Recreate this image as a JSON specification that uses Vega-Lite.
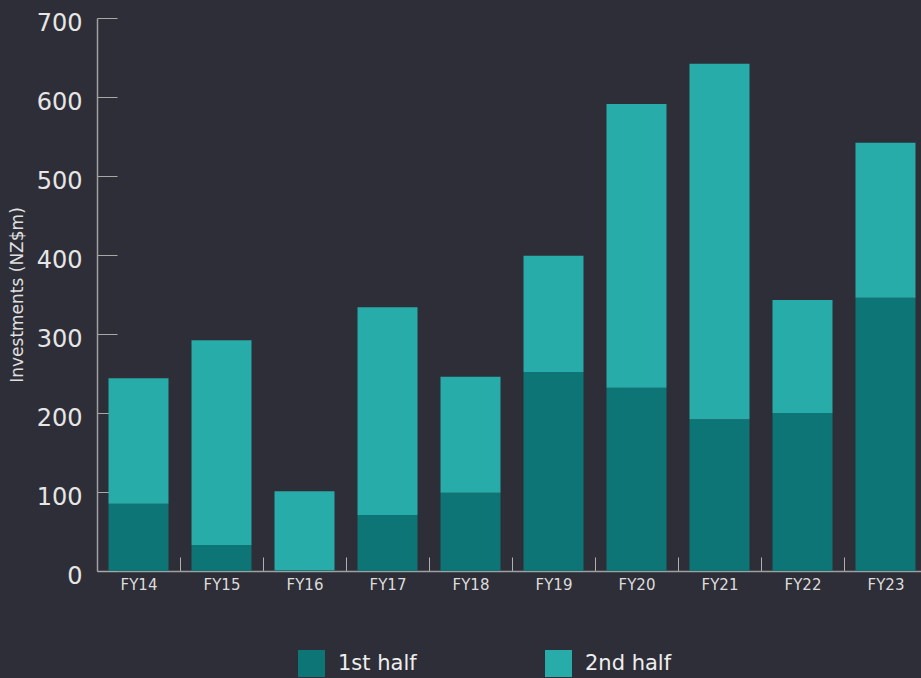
{
  "$schema": "https://vega.github.io/schema/vega-lite/v6.json",
  "width": 824,
  "height": 553,
  "autosize": {"type": "none"},
  "padding": {"left": 97, "top": 18, "right": 0, "bottom": 107},
  "background": "#2e2e38",
  "config": {
    "view": {"stroke": null},
    "font": "DejaVu Sans"
  },
  "data": {
    "values": [
      {"year": "FY14", "half": "1st half", "value": 85},
      {"year": "FY14", "half": "2nd half", "value": 159},
      {"year": "FY15", "half": "1st half", "value": 33},
      {"year": "FY15", "half": "2nd half", "value": 259},
      {"year": "FY16", "half": "1st half", "value": 1},
      {"year": "FY16", "half": "2nd half", "value": 100},
      {"year": "FY17", "half": "1st half", "value": 71},
      {"year": "FY17", "half": "2nd half", "value": 263},
      {"year": "FY18", "half": "1st half", "value": 99},
      {"year": "FY18", "half": "2nd half", "value": 147},
      {"year": "FY19", "half": "1st half", "value": 252},
      {"year": "FY19", "half": "2nd half", "value": 147},
      {"year": "FY20", "half": "1st half", "value": 232},
      {"year": "FY20", "half": "2nd half", "value": 359},
      {"year": "FY21", "half": "1st half", "value": 192},
      {"year": "FY21", "half": "2nd half", "value": 450},
      {"year": "FY22", "half": "1st half", "value": 200},
      {"year": "FY22", "half": "2nd half", "value": 143},
      {"year": "FY23", "half": "1st half", "value": 346},
      {"year": "FY23", "half": "2nd half", "value": 196}
    ]
  },
  "mark": {"type": "bar"},
  "encoding": {
    "x": {
      "field": "year",
      "type": "nominal",
      "sort": null,
      "scale": {"range": [0, 830], "paddingInner": 0.277, "paddingOuter": 0.1386},
      "axis": {
        "title": null,
        "labelAngle": 0,
        "labelFont": "DejaVu Sans",
        "labelFontSize": 15,
        "labelColor": "#dcdcdc",
        "labelPadding": 20,
        "tickOffset": 41.5,
        "labelOffset": -41.5,
        "tickSize": -14,
        "tickColor": "#b0b0b0",
        "domainColor": "#a0a0a0",
        "domainWidth": 1.5
      }
    },
    "y": {
      "field": "value",
      "type": "quantitative",
      "stack": "zero",
      "scale": {"domain": [0, 700], "nice": false},
      "axis": {
        "title": "Investments (NZ$m)",
        "titleFont": "DejaVu Sans",
        "titleFontSize": 17,
        "titleFontWeight": "normal",
        "titleColor": "#e0e0e0",
        "titlePadding": 10,
        "values": [0, 100, 200, 300, 400, 500, 600, 700],
        "labelFont": "DejaVu Sans",
        "labelFontSize": 24,
        "labelColor": "#e6e6e6",
        "labelPadding": 35,
        "labelOffset": 5,
        "tickSize": -20,
        "tickColor": "#a8a8a8",
        "domainColor": "#a0a0a0",
        "domainWidth": 1.5,
        "grid": false
      }
    },
    "color": {
      "field": "half",
      "type": "nominal",
      "scale": {"domain": ["1st half", "2nd half"], "range": ["#0d7575", "#27acaa"]},
      "legend": {
        "title": null,
        "orient": "none",
        "legendX": 201,
        "legendY": 632,
        "direction": "horizontal",
        "symbolType": "square",
        "symbolSize": 729,
        "symbolStrokeWidth": 0,
        "labelFont": "DejaVu Sans",
        "labelFontSize": 21,
        "labelColor": "#eeeeee",
        "labelOffset": 13,
        "columnPadding": 128,
        "padding": 0
      }
    },
    "order": {"field": "half", "sort": "ascending"}
  }
}
